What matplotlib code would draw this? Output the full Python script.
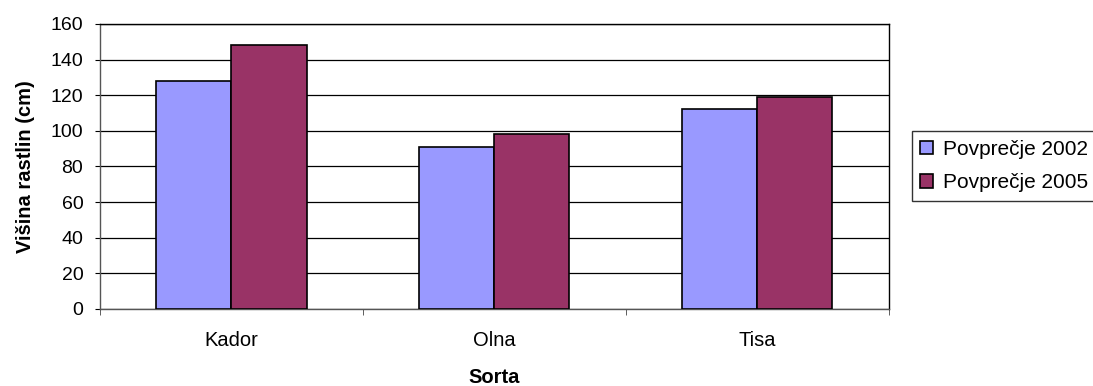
import matplotlib
matplotlib.use("Agg")
import matplotlib.pyplot as plt
import numpy as np

plt.rcParams['font.family'] = ['Liberation Sans', 'DejaVu Sans']

sorte = ['Kador', 'Olna', 'Tisa']
povp_2002 = [128, 91, 112]
povp_2005 = [148, 98, 119]
y_ticks = [0, 20, 40, 60, 80, 100, 120, 140, 160]

fig = plt.figure(figsize=(10.93, 3.86), dpi=100)
ax = fig.add_axes([0.0915, 0.1995, 0.7215, 0.7385])

x = np.arange(len(sorte))
w = 1 / 3.5
ax.bar(x - w / 2, povp_2002, w, color='#9999ff', edgecolor='black', linewidth=1.2,
       label='Povprečje 2002', zorder=3)
ax.bar(x + w / 2, povp_2005, w, color='#993366', edgecolor='black', linewidth=1.2,
       label='Povprečje 2005', zorder=3)

ax.set_xlim(-0.5, 2.5)
ax.set_ylim(0, 160)
ax.set_yticks(y_ticks)
ax.yaxis.grid(True, color='black', linewidth=0.9, zorder=0)

# category labels centred, tick marks on the boundaries
ax.set_xticks(x)
ax.set_xticklabels(sorte)
ax.tick_params(axis='x', length=0, pad=16, labelsize=14.5)
ax.set_xticks(np.arange(-0.5, 3, 1), minor=True)
ax.tick_params(axis='x', which='minor', length=4, color='#444444')
ax.tick_params(axis='y', length=3.5, labelsize=14, pad=8.5)

for s in ax.spines.values():
    s.set_color('black')
    s.set_linewidth(1)
ax.spines['bottom'].set_color('#555555')
ax.spines['left'].set_color('#555555')

ax.set_ylabel('Višina rastlin (cm)', fontweight='bold', fontsize=14.5, labelpad=11)
ax.set_xlabel('Sorta', fontweight='bold', fontsize=14.5, labelpad=12.5)

leg = fig.legend(loc='center left', bbox_to_anchor=(0.8344, 0.570), fontsize=15,
                 frameon=True, fancybox=False, edgecolor='black', handlelength=0.6,
                 handleheight=0.6, handletextpad=0.5, labelspacing=0.7,
                 borderpad=0.4, borderaxespad=0)
leg.get_frame().set_linewidth(1)

fig.savefig('out.png', dpi=100)
